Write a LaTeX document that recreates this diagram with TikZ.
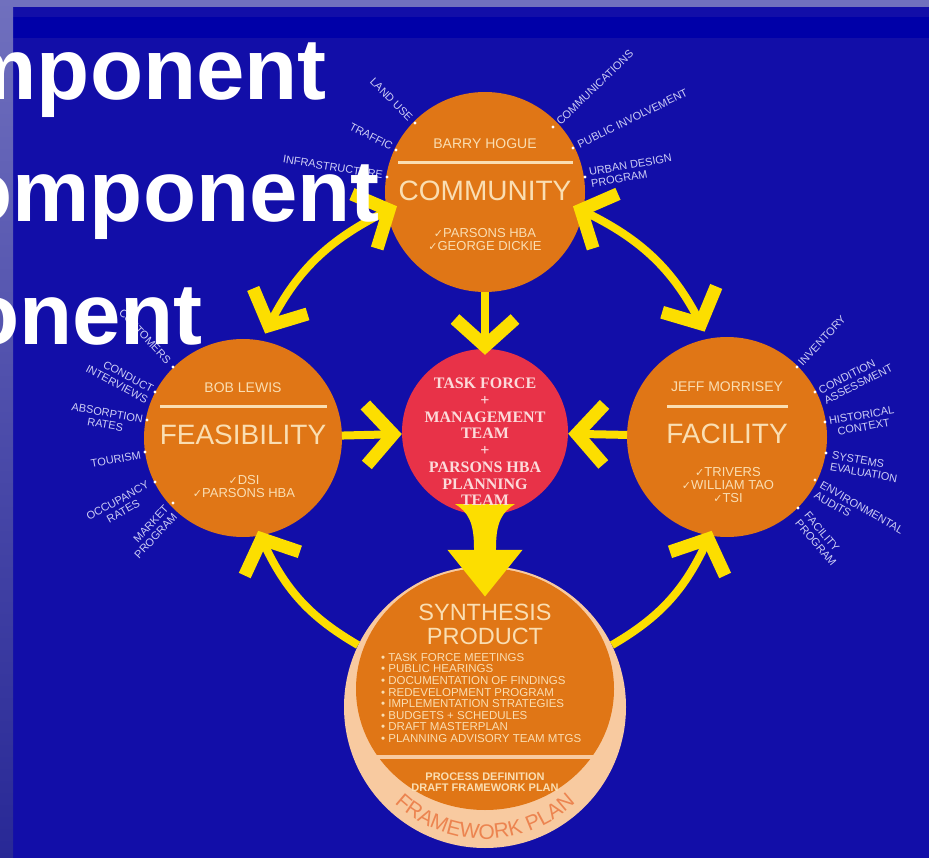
\documentclass[tikz,border=0pt]{standalone}
\usepackage{fontspec}
\setmainfont{Liberation Sans}
\newfontfamily\timesfam{Liberation Serif}
\newfontfamily\dejavu{DejaVu Sans}
\usetikzlibrary{arrows.meta,bending,calc,decorations.text}
\definecolor{bgblue}{RGB}{18,14,168}
\definecolor{darkband}{RGB}{0,0,168}
\definecolor{lav}{RGB}{112,112,190}
\definecolor{lavdark}{RGB}{40,40,150}
\definecolor{orng}{RGB}{224,118,22}
\definecolor{redc}{RGB}{232,50,72}
\definecolor{yel}{RGB}{252,222,0}
\definecolor{cream}{RGB}{250,222,178}
\definecolor{peach}{RGB}{248,202,160}
\definecolor{salmon}{RGB}{236,132,80}
\definecolor{labc}{RGB}{205,205,245}
\definecolor{pinkt}{RGB}{252,218,218}
\newcommand{\ck}{{\dejavu\fontsize{11}{11}\selectfont ✓}}
\begin{document}
\begin{tikzpicture}[x=1pt,y=-1pt,
  orb/.style={circle, fill=orng, minimum size=#1, inner sep=0pt, outer sep=0pt},
  yarr/.style={draw=yel, line width=8pt, >={Straight Barb[length=27pt,width=60pt,line width=13pt]}},
  lab/.style={text=labc, font=\fontsize{11}{11.8}\selectfont, inner sep=0pt},
  cname/.style={text=cream, font=\fontsize{14}{14}\selectfont, inner sep=0pt},
  ctitle/.style={text=cream, font=\fontsize{28}{28}\selectfont, inner sep=0pt},
  cteam/.style={text=cream, font=\fontsize{13}{13}\selectfont, inner sep=0pt, align=center},
  sepline/.style={draw=cream, line width=3pt},
  ttl/.style={text=white, font=\fontsize{87}{87}\selectfont\bfseries, inner sep=0pt, anchor=base east},
]
\useasboundingbox (0,0) rectangle (929,858);
\clip (0,0) rectangle (929,858);
% background
\fill[bgblue] (0,0) rectangle (929,858);
\fill[darkband] (13,17) rectangle (929,38);
\fill[lav] (0,0) rectangle (929,7);
\shade[top color=lav, bottom color=lavdark] (0,0) rectangle (13,858);

% circles
\node[orb=200pt] (com) at (485,192) {};
\node[orb=198pt] (fea) at (243,438) {};
\node[orb=200pt] (fac) at (727,437) {};
\node[circle, fill=redc, minimum size=166pt, inner sep=0pt] (ctr) at (485,432) {};
\node[circle, fill=peach, minimum size=282pt, inner sep=0pt] (syn) at (485,707) {};
\fill[orng] (485,689) ellipse[x radius=129, y radius=121];

% arrows
\draw[yarr, <->, shorten <=-11pt, shorten >=8pt] (com.191) to[bend right=20] (fea.79);
\draw[yarr, <->, shorten <=-11pt, shorten >=8pt] (com.349) to[bend left=20] (fac.101);
\draw[yarr, ->, shorten >=-6pt] (com) -- (ctr);
\draw[yarr, ->] (fea) -- (ctr);
\draw[yarr, ->] (fac) -- (ctr);
\draw[yarr, ->, shorten >=-5pt] (syn.154) to[bend left=18] (fea.280);
\draw[yarr, ->, shorten >=-5pt] (syn.26) to[bend right=18] (fac.260);
\fill[yel] (455,504) .. controls (468,512) and (474,522) .. (474,548) -- (496,548) .. controls (496,522) and (502,512) .. (515,504) -- cycle;
\draw[draw=yel, line width=22pt, -{Triangle[length=47pt,width=72pt]}, shorten >=-31pt] (ctr) -- (syn);

% community text
\node[cname] (comn) at (485,144) {BARRY HOGUE};
\draw[sepline] ($(com.center)+(-87,-29)$) -- ($(com.center)+(88,-29)$);
\node[ctitle] (comt) at (485,191) {COMMUNITY};
\node[cteam] (comm) at (485,240) {\ck PARSONS HBA\\\ck GEORGE DICKIE};

% feasibility text
\node[cname] (fean) at (243,388) {BOB LEWIS};
\draw[sepline] ($(fea.center)+(-83,-31)$) -- ($(fea.center)+(84,-31)$);
\node[ctitle] (feat) at (243,435) {FEASIBILITY};
\node[cteam] (feam) at (244,487) {\ck DSI\\\ck PARSONS HBA};

% facility text
\node[cname] (facn) at (727,387) {JEFF MORRISEY};
\draw[sepline] ($(fac.center)+(-60,-30)$) -- ($(fac.center)+(61,-30)$);
\node[ctitle] (fact) at (727,434) {FACILITY};
\node[cteam] (facm) at (728,485) {\ck TRIVERS\\\ck WILLIAM TAO\\\ck TSI};

% center text
\node[text=pinkt, font=\timesfam\bfseries\fontsize{16}{16.7}\selectfont, align=center, inner sep=0pt] (ctrt) at (485,442) {TASK FORCE\\+\\MANAGEMENT\\TEAM\\+\\PARSONS HBA\\PLANNING\\TEAM};

% synthesis text
\node[text=cream, font=\fontsize{23.5}{24}\selectfont, align=center, inner sep=0pt] (synt) at (485,624) {SYNTHESIS\\PRODUCT};
\node[text=cream, font=\fontsize{11.5}{11.6}\selectfont, align=left, inner sep=0pt, anchor=west] (synl) at (381,698) {• TASK FORCE MEETINGS\\• PUBLIC HEARINGS\\• DOCUMENTATION OF FINDINGS\\• REDEVELOPMENT PROGRAM\\• IMPLEMENTATION STRATEGIES\\• BUDGETS + SCHEDULES\\• DRAFT MASTERPLAN\\• PLANNING ADVISORY TEAM MTGS};
\draw[draw=peach, line width=4pt] ($(syn.center)+(-112,50)$) -- ($(syn.center)+(112,50)$);
\node[text=cream, font=\bfseries\fontsize{11}{11.5}\selectfont, align=center, inner sep=0pt] (synp) at (485,782) {PROCESS DEFINITION\\DRAFT FRAMEWORK PLAN};
\path[decorate, decoration={text along path, text align=center, text={|\fontsize{21}{21}\selectfont\color{salmon}|FRAMEWORK PLAN}}] ($(syn.center)+(137:132)$) arc[start angle=137, end angle=43, radius=132];

% dots
\foreach \p in {(415,123),(396,150),(387,177),(553,127),(573,148),(585,177),
  (173,367),(155,392),(147,420),(145,452),(155,482),(173,503),
  (797,367),(815,392),(825,422),(826,453),(815,480),(798,508)}
  \fill[white] \p circle[radius=1.6];

% community labels
\node[lab, anchor=east, rotate=-45] (l1) at (411,119) {LAND USE};
\node[lab, anchor=east, rotate=-27] (l2) at (392,147) {TRAFFIC};
\node[lab, anchor=east, rotate=-9] (l3) at (383,175) {INFRASTRUCTURE};
\node[lab, anchor=west, rotate=44] (l4) at (558,123) {COMMUNICATIONS};
\node[lab, anchor=west, rotate=26] (l5) at (578,145) {PUBLIC INVOLVEMENT};
\node[lab, anchor=west, rotate=10, align=left] (l6) at (590,178) {URBAN DESIGN\\PROGRAM};

% feasibility labels
\node[lab, anchor=east, rotate=-47] (l7) at (169,362) {CUSTOMERS};
\node[lab, anchor=east, rotate=-28, align=right] (l8) at (150,395) {CONDUCT\\INTERVIEWS};
\node[lab, anchor=east, rotate=-10, align=center] (l9) at (142,425) {ABSORPTION\\RATES};
\node[lab, anchor=east, rotate=10] (l10) at (141,455) {TOURISM};
\node[lab, anchor=east, rotate=29, align=center] (l11) at (151,489) {OCCUPANCY\\RATES};
\node[lab, anchor=east, rotate=47, align=right] (l12) at (171,511) {MARKET\\PROGRAM};

% facility labels
\node[lab, anchor=west, rotate=47] (l13) at (800,364) {INVENTORY};
\node[lab, anchor=west, rotate=27, align=left] (l14) at (822,396) {CONDITION\\ASSESSMENT};
\node[lab, anchor=west, rotate=10, align=center] (l15) at (830,427) {HISTORICAL\\CONTEXT};
\node[lab, anchor=west, rotate=-10, align=left] (l16) at (831,461) {SYSTEMS\\EVALUATION};
\node[lab, anchor=west, rotate=-30, align=left] (l17) at (818,489) {ENVIRONMENTAL\\AUDITS};
\node[lab, anchor=west, rotate=-50, align=left] (l18) at (802,517) {FACILITY\\PROGRAM};

% title fragments
\node[ttl] (t1) at (327,100) {mponent};
\node[ttl] (t2) at (380,222) {omponent};
\node[ttl] (t3) at (203,345) {onent};
\end{tikzpicture}
\end{document}
